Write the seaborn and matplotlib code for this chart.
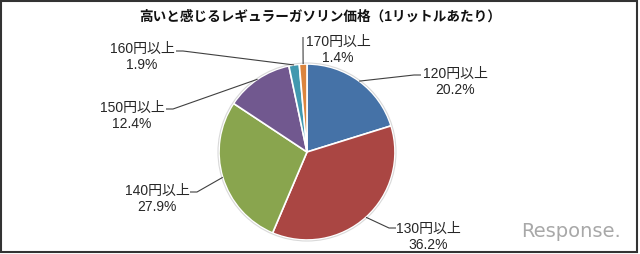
import matplotlib.pyplot as plt
import matplotlib.patches as mpatches
import numpy as np
import seaborn as sns

# data
categories = ["120円以上", "130円以上", "140円以上", "150円以上", "160円以上", "170円以上"]
shares = [20.2, 36.2, 27.9, 12.4, 1.9, 1.4]
pct_labels = ["20.2%", "36.2%", "27.9%", "12.4%", "1.9%", "1.4%"]
title = "高いと感じるレギュラーガソリン価格（1リットルあたり）"

COLORS = ["#4572A7", "#AA4643", "#89A54E", "#71588F", "#4198AF", "#DB843D"]

sns.set_theme(style="white")
plt.rcParams["font.family"] = ["Liberation Sans", "Noto Sans CJK JP", "DejaVu Sans"]

W, H = 640, 255
fig = plt.figure(figsize=(6.4, 2.55), dpi=100)
ax = fig.add_axes([0, 0, 1, 1])

# pie placed in pixel coordinates (y up)
cx, cy, R = 307, H - 153, 88
wedges, _ = ax.pie(
    shares, colors=sns.color_palette(COLORS), startangle=90, counterclock=False,
    center=(cx, cy), radius=R,
    wedgeprops=dict(edgecolor="white", linewidth=1.2),
)
# faint rim like the original
ax.add_patch(mpatches.Circle((cx, cy), R + 1, fill=False, edgecolor="#d9d9d9", lw=0.8))
ax.set_xlim(0, W)
ax.set_ylim(0, H)
ax.axis("off")

# label layout (pixel coords, y down): text block centre, leader end, elbow
text_pos = [(455, 82), (428, 237), (157, 199), (132, 116), (142, 57), (338, 50)]
line_end = [(421, 76), (396, 229), (190, 193), (166, 110), (176, 52), (303, 38)]
elbow = [(414, 76), (389, 229), (197, 193), (173, 110), (183, 52), (303, 45)]

for w, cat, pct, tp, le, eb in zip(wedges, categories, pct_labels, text_pos, line_end, elbow):
    ang = np.deg2rad((w.theta1 + w.theta2) / 2)
    ex, ey = cx + R * np.cos(ang), cy + R * np.sin(ang)
    ax.plot([ex, eb[0], le[0]], [ey, H - eb[1], H - le[1]],
            color="#404040", lw=0.8, solid_capstyle="butt")
    ax.text(tp[0], H - tp[1], f"{cat}\n{pct}", ha="center", va="center",
            multialignment="center", fontsize=10, color="#262626", linespacing=1.25)

fig.text(320 / W, 1 - 17 / H, title, ha="center", va="center",
         fontsize=9.8, fontweight="bold", color="#111111")

# watermark
fig.text(571 / W, 1 - 232 / H, "Response.", ha="center", va="center",
         fontsize=14, color="#a8a8a8", family=["DejaVu Sans"])

# outer frame
fig.patches.append(mpatches.Rectangle((0.002, 0.006), 0.994, 0.988, transform=fig.transFigure,
                                      fill=False, edgecolor="#333333", linewidth=1.5))

plt.savefig("out.png", dpi=100)
plt.close()
